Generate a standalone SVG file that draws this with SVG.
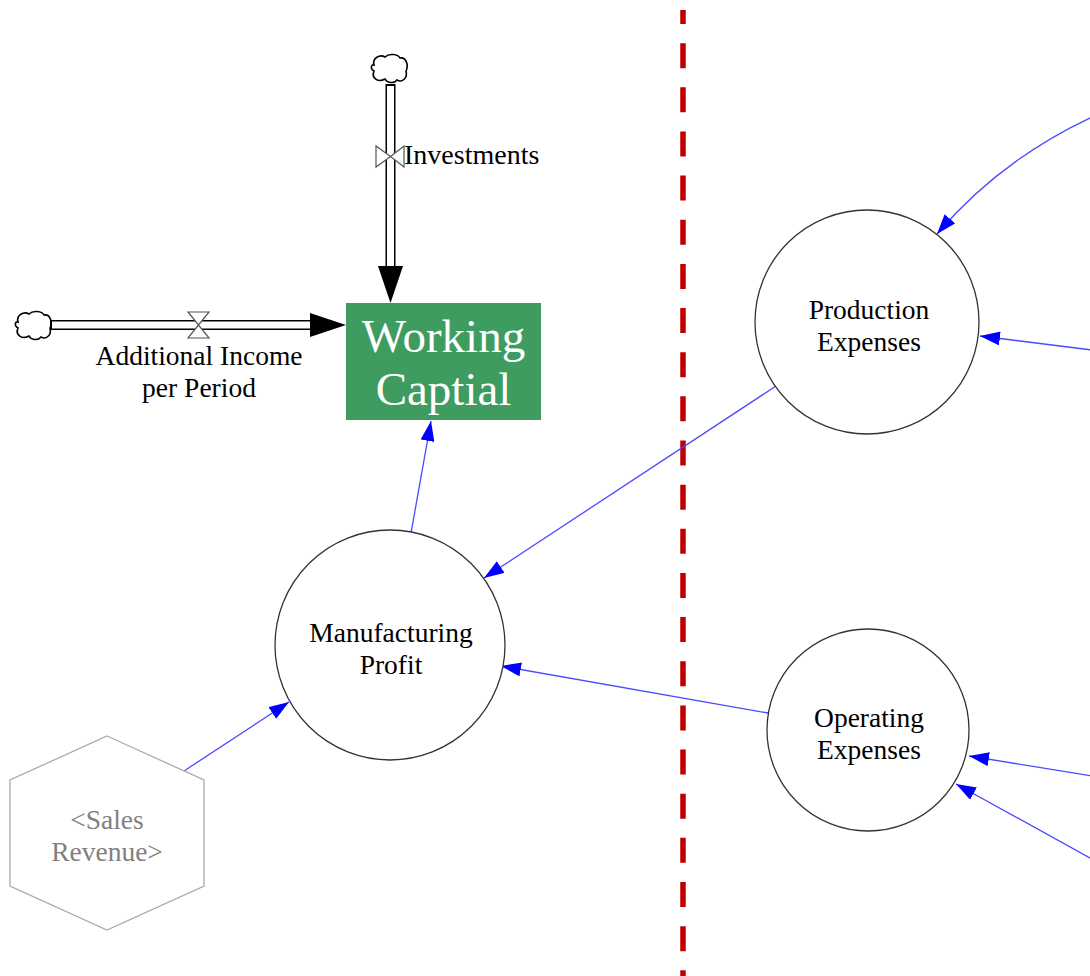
<svg xmlns="http://www.w3.org/2000/svg" width="1090" height="976" viewBox="0 0 1090 976">
  <style>
    text { font-family: "Liberation Serif", "Times New Roman", serif; }
    .lbl { font-size: 27.5px; fill: #000; text-anchor: middle; }
    .shadow-lbl { font-size: 27.5px; fill: #808080; text-anchor: middle; }
    .aux { fill: #fff; stroke: #333; stroke-width: 1.3; }
    .link { fill: none; stroke: #4a4aff; stroke-width: 1.3; }
    .cloud { fill: #fff; stroke: #000; stroke-width: 1.6; }
    .valve { fill: #fff; stroke: #555; stroke-width: 1.2; }
    .pipe-outer { stroke: #000; stroke-width: 10; fill: none; }
    .pipe-inner { stroke: #fff; stroke-width: 7; fill: none; }
  </style>
  <defs>
    <marker id="blueHead" viewBox="0 0 20 14" refX="20" refY="7" markerWidth="20" markerHeight="14" markerUnits="userSpaceOnUse" orient="auto">
      <path d="M0,0 L20,7 L0,14 Z" fill="#0000ff"/>
    </marker>
    <path id="cloud" d="M-15,-4 C-17,-11 -9,-15 -4,-12 C0,-16 9,-15 11,-11 C17,-12 20,-4 17,2 C19,9 13,14 8,11 C5,15 -2,14 -4,10 C-11,14 -18,9 -15,2 C-19,0 -18,-5 -15,-4 Z"/>
  </defs>

  <rect width="1090" height="976" fill="#fff"/>

  <!-- sector divider -->
  <line x1="683" y1="10" x2="683" y2="976" stroke="#c00000" stroke-width="5.5" stroke-dasharray="25 19.15" stroke-dashoffset="11"/>

  <!-- information links -->
  <g id="connectors">
    <line class="link" x1="411" y1="533" x2="431" y2="421" marker-end="url(#blueHead)"/>
    <line class="link" x1="776" y1="386" x2="484" y2="578" marker-end="url(#blueHead)"/>
    <line class="link" x1="768" y1="713" x2="501" y2="666" marker-end="url(#blueHead)"/>
    <line class="link" x1="184" y1="771" x2="289" y2="702" marker-end="url(#blueHead)"/>
    <path class="link" d="M1092,117 Q1000,160 937,234" marker-end="url(#blueHead)"/>
    <line class="link" x1="1092" y1="350" x2="980" y2="336" marker-end="url(#blueHead)"/>
    <line class="link" x1="1092" y1="776" x2="969" y2="756" marker-end="url(#blueHead)"/>
    <line class="link" x1="1092" y1="859" x2="956" y2="784" marker-end="url(#blueHead)"/>
  </g>

  <!-- inflow: Additional Income per Period -->
  <g id="flow-additional-income">
    <use href="#cloud" class="cloud" transform="translate(33,326)"/>
    <line class="pipe-outer" x1="50" y1="325" x2="312" y2="325"/>
    <line class="pipe-inner" x1="52" y1="325" x2="312" y2="325"/>
    <path d="M310,313 L346,325 L310,337 Z" fill="#000"/>
    <path class="valve" d="M188,312 L209,312 L198.5,325 Z M188,338 L209,338 L198.5,325 Z"/>
    <text class="lbl" x="199" y="365">Additional Income</text>
    <text class="lbl" x="199" y="397">per Period</text>
  </g>

  <!-- inflow: Investments -->
  <g id="flow-investments">
    <use href="#cloud" class="cloud" transform="translate(389,69)"/>
    <line class="pipe-outer" x1="390.5" y1="84" x2="390.5" y2="268"/>
    <line class="pipe-inner" x1="390.5" y1="86" x2="390.5" y2="268"/>
    <path d="M378,266 L390.5,303 L403,266 Z" fill="#000"/>
    <path class="valve" d="M376,146 L376,167 L390.5,156.5 Z M404,146 L404,167 L390.5,156.5 Z"/>
    <text x="404" y="164" font-size="28" fill="#000">Investments</text>
  </g>

  <!-- stock -->
  <g id="working-captial">
    <rect x="346" y="303" width="195" height="117" fill="#3e9c60"/>
    <text x="443.5" y="352" font-size="47" fill="#fff" text-anchor="middle">Working</text>
    <text x="443.5" y="405" font-size="47" fill="#fff" text-anchor="middle">Captial</text>
  </g>

  <g id="manufacturing-profit">
    <circle class="aux" cx="390" cy="645" r="115"/>
    <text class="lbl" x="391" y="642">Manufacturing</text>
    <text class="lbl" x="391" y="674">Profit</text>
  </g>

  <g id="production-expenses">
    <circle class="aux" cx="867" cy="322" r="112"/>
    <text class="lbl" x="869" y="319">Production</text>
    <text class="lbl" x="869" y="351">Expenses</text>
  </g>

  <g id="operating-expenses">
    <circle class="aux" cx="868" cy="730" r="101"/>
    <text class="lbl" x="869" y="727">Operating</text>
    <text class="lbl" x="869" y="759">Expenses</text>
  </g>

  <!-- shadow variable -->
  <g id="sales-revenue">
    <polygon points="107,736 204,780 204,886 107,930 10,886 10,780" fill="#fff" stroke="#aaa" stroke-width="1.3"/>
    <text class="shadow-lbl" x="107" y="829">&lt;Sales</text>
    <text class="shadow-lbl" x="107" y="861">Revenue&gt;</text>
  </g>
</svg>
